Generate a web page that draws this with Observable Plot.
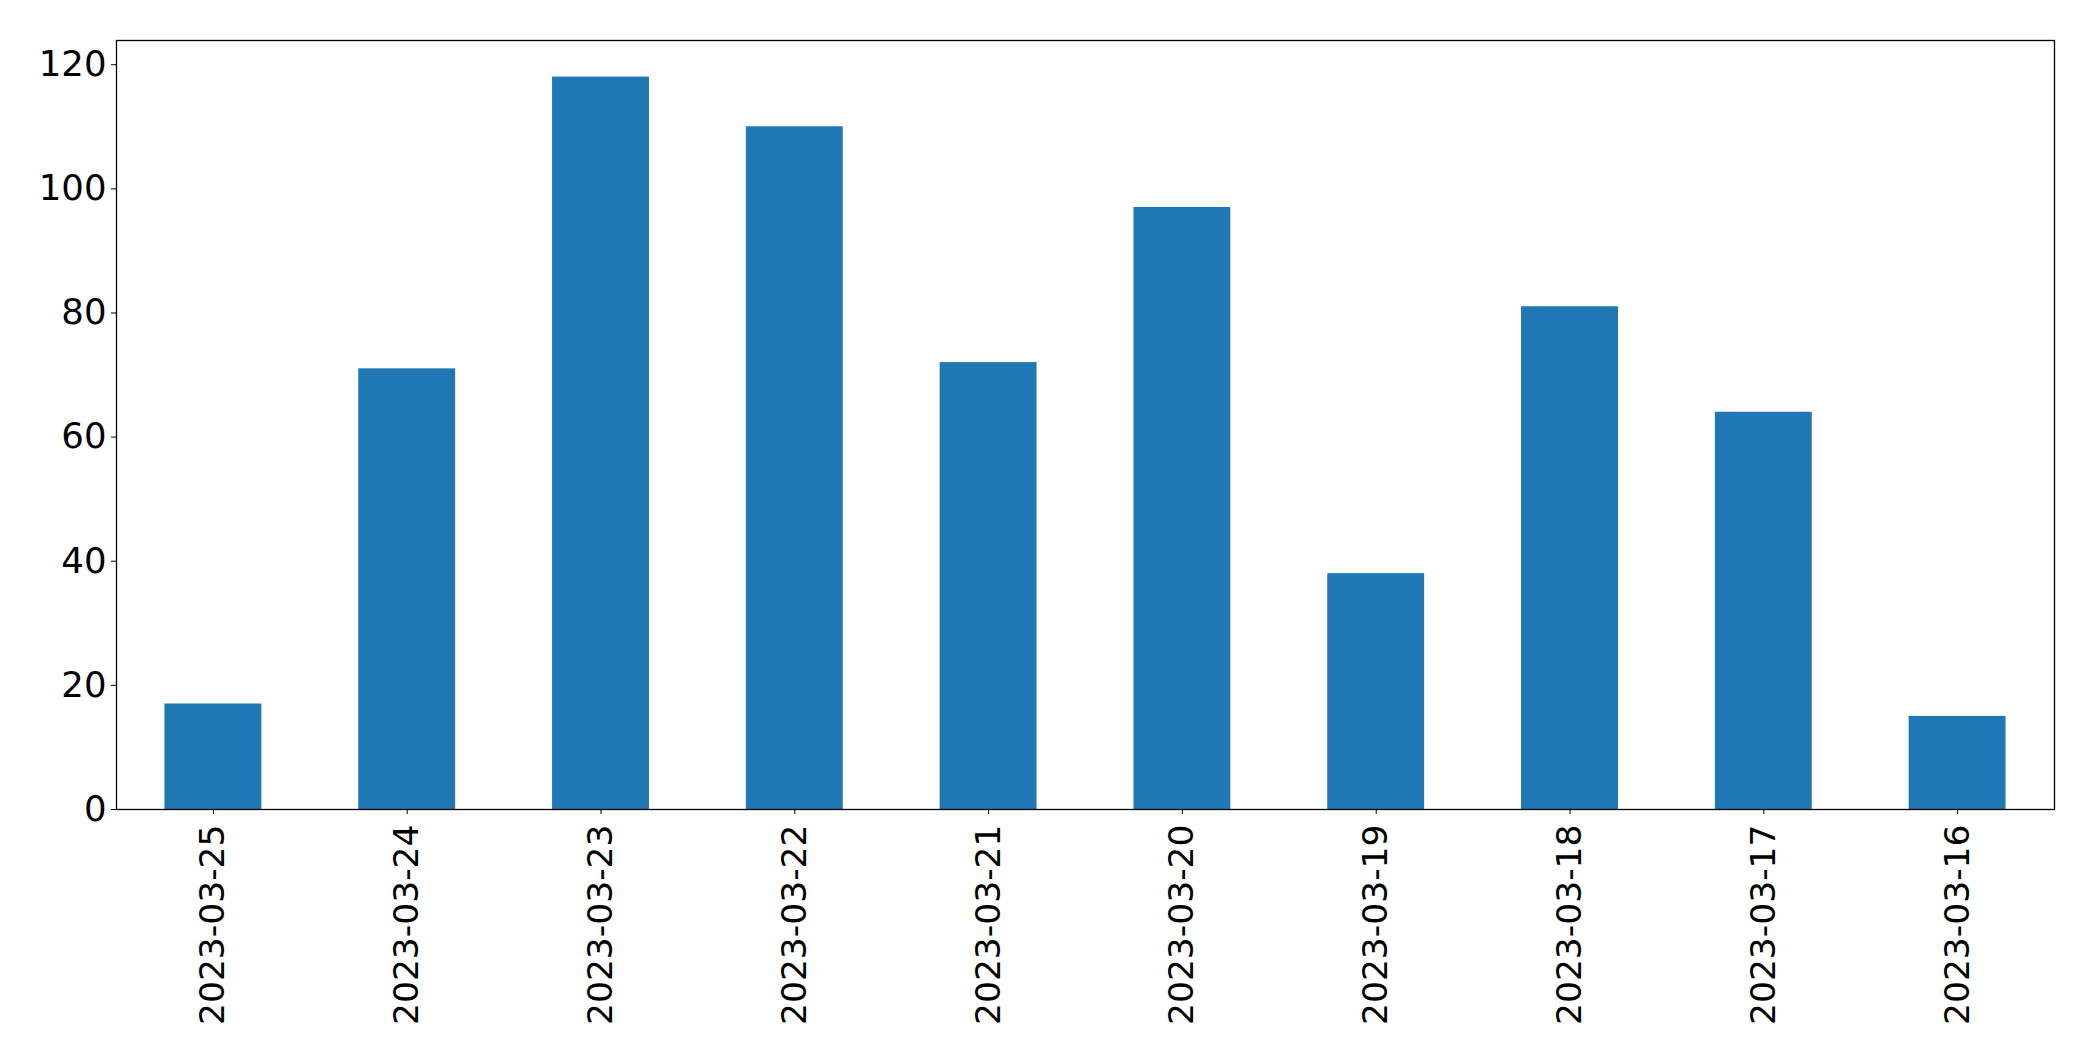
<!DOCTYPE html>
<html>
<head>
<meta charset="utf-8">
<script src="https://cdn.jsdelivr.net/npm/d3@7"></script>
<script src="https://cdn.jsdelivr.net/npm/@observablehq/plot@0.6"></script>
<style>
  html, body { margin: 0; padding: 0; background: #fff; }
  #chart svg { display: block; }
</style>
</head>
<body>
<div id="chart"></div>
<script>
const dates = ["2023-03-25","2023-03-24","2023-03-23","2023-03-22","2023-03-21","2023-03-20","2023-03-19","2023-03-18","2023-03-17","2023-03-16"];
const counts = [17, 71, 118, 110, 72, 97, 38, 81, 64, 15];
const yTicks = [0, 20, 40, 60, 80, 100, 120];

const data = dates.map((d, i) => ({date: d, count: counts[i]}));

const chart = Plot.plot({
  width: 2093,
  height: 1061,
  marginLeft: 116,
  marginRight: 39,
  marginTop: 40,
  marginBottom: 252,
  style: {fontFamily: "DejaVu Sans", fontSize: "35px", color: "#000", background: "#fff"},
  x: {domain: dates, paddingInner: 0.5, paddingOuter: 0.25, round: false},
  y: {domain: [0, 123.9]},
  marks: [
    Plot.barY(data, {x: "date", y: "count", fill: "#1f77b4"}),
    Plot.frame({stroke: "#000", strokeWidth: 1.3}),
    Plot.axisY({ticks: yTicks, tickSize: 5, tickPadding: 5, label: null, fontSize: 35.5, stroke: "#000"}),
    Plot.axisX({tickSize: 5, tickPadding: 10, tickRotate: -90, label: null, fontSize: 34.5, stroke: "#000"})
  ]
});
document.getElementById("chart").appendChild(chart);
</script>
</body>
</html>
